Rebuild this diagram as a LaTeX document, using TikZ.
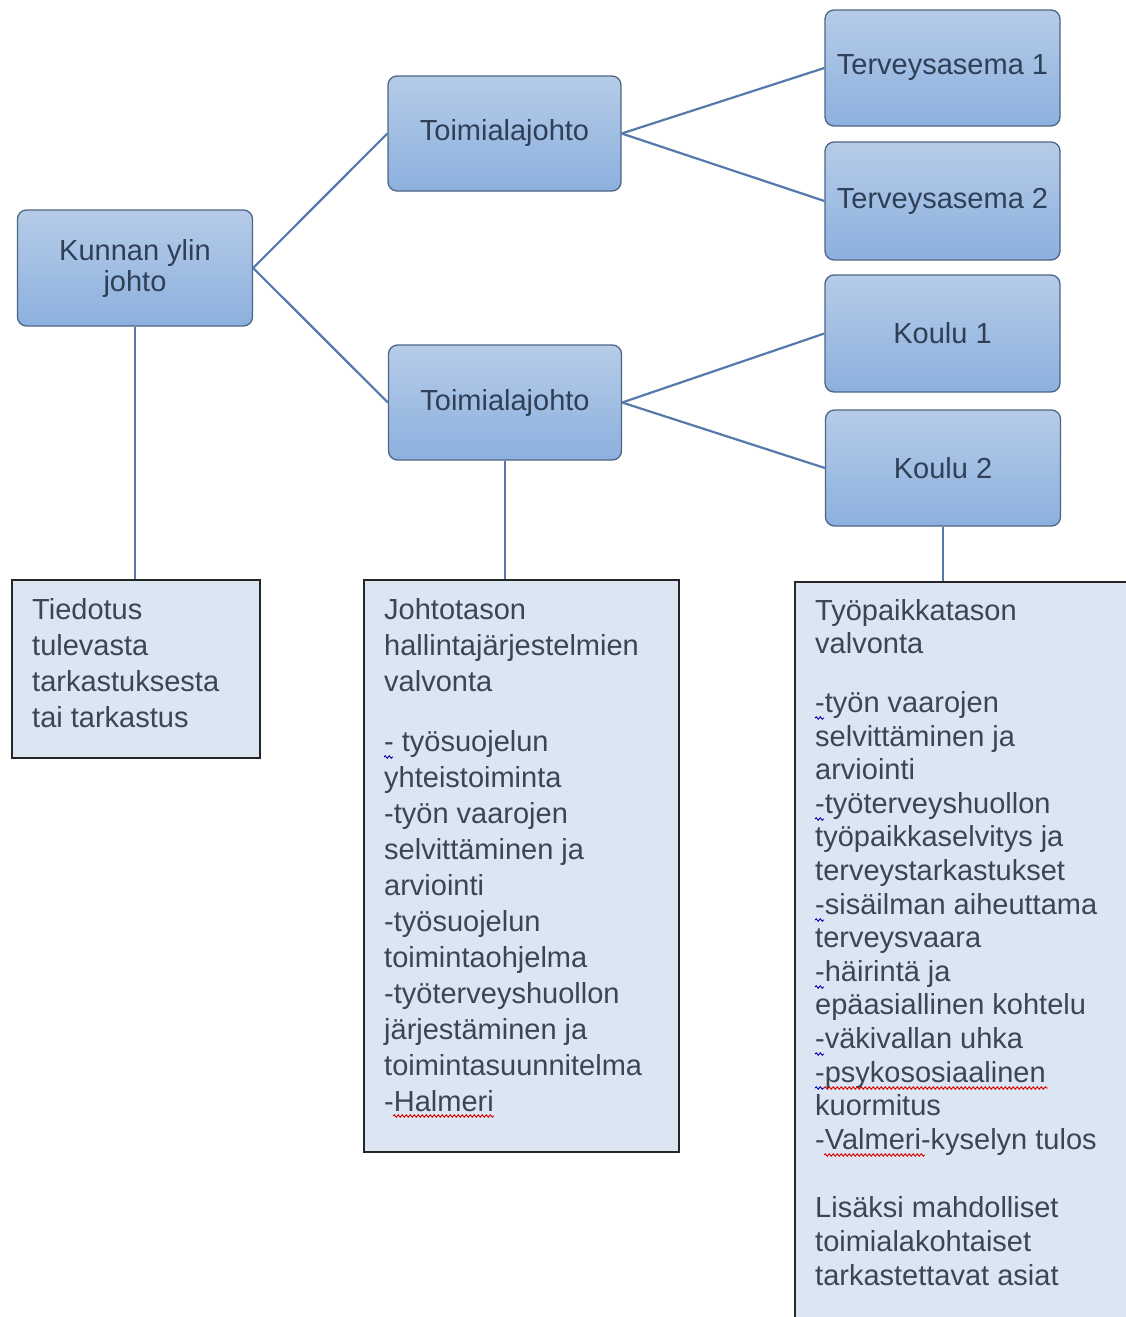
\documentclass[tikz,border=0pt]{standalone}
\usepackage{fontspec}
\usetikzlibrary{decorations.pathmorphing}
\setmainfont{Liberation Sans}
\definecolor{boxtop}{HTML}{B6CCE8}
\definecolor{boxbot}{HTML}{8CB0DE}
\definecolor{boxline}{HTML}{4D6585}
\definecolor{conn}{HTML}{5579AB}
\definecolor{nodetext}{HTML}{2F3F57}
\definecolor{notefill}{HTML}{DCE6F2}
\definecolor{notetext}{HTML}{3C4653}
\begin{document}
\begin{tikzpicture}[x=1pt,y=-1pt,
  orgbox/.style={draw=boxline, line width=1.3pt, rounded corners=9pt,
    top color=boxtop, bottom color=boxbot, minimum width=235pt, minimum height=116pt,
    inner sep=0pt, text=nodetext, align=center, font=\fontsize{29}{31}\selectfont},
  notebox/.style={draw=black!85, line width=1.6pt, fill=notefill, inner sep=0pt},
  notetxt/.style={anchor=north west, inner sep=0pt, align=left, text=notetext},
  conline/.style={draw=conn, line width=2.2pt},
  redwave/.style={draw=red!85!black, line width=0.9pt, decorate,
    decoration={snake, amplitude=1.2pt, segment length=4pt}},
  bluewave/.style={draw=blue!70!black, line width=0.9pt, decorate,
    decoration={snake, amplitude=1.2pt, segment length=4pt}}]
\useasboundingbox (0,0) rectangle (1126,1317);
\clip (0,0) rectangle (1126,1317);

% organisation boxes
\node[orgbox] (kunta) at (135,268) {Kunnan ylin\\johto};
\node[orgbox, minimum width=233pt, minimum height=115pt] (toim1) at (504.5,133.5) {Toimialajohto};
\node[orgbox, minimum width=233pt, minimum height=115pt] (toim2) at (505,402.5) {Toimialajohto};
\node[orgbox] (ter1) at (942.5,68) {Terveysasema 1};
\node[orgbox, minimum height=118pt] (ter2) at (942.5,201) {Terveysasema 2};
\node[orgbox, minimum height=117pt] (kou1) at (942.5,333.5) {Koulu 1};
\node[orgbox] (kou2) at (943,468) {Koulu 2};

% note boxes
\node[notebox, minimum width=248pt, minimum height=178pt] (note1) at (136,669) {};
\node[notebox, minimum width=315pt, minimum height=572pt] (note2) at (521.5,866) {};
\node[notebox, minimum width=345pt, minimum height=770pt] (note3) at (967.5,967) {};

% connectors
\draw[conline] (kunta.east) -- (toim1.west);
\draw[conline] (kunta.east) -- (toim2.west);
\draw[conline] (toim1.east) -- (ter1.west);
\draw[conline] (toim1.east) -- (ter2.west);
\draw[conline] (toim2.east) -- (kou1.west);
\draw[conline] (toim2.east) -- (kou2.west);
\draw[conline] (kunta.south) -- (kunta.south |- note1.north);
\draw[conline] (toim2.south) -- (toim2.south |- note2.north);
\draw[conline] (kou2.south) -- (kou2.south |- note3.north);

% note texts
\node[notetxt, font=\fontsize{29}{36}\selectfont] (t1) at (32,598)
  {Tiedotus\\tulevasta\\tarkastuksesta\\tai tarkastus};
\node[notetxt, font=\fontsize{29}{36}\selectfont] (t2) at (384,598)
  {Johtotason\\hallintajärjestelmien\\valvonta\\[24pt]
   - työsuojelun\\yhteistoiminta\\-työn vaarojen\\selvittäminen ja\\arviointi\\
   -työsuojelun\\toimintaohjelma\\-työterveyshuollon\\järjestäminen ja\\
   toimintasuunnitelma\\-Halmeri};
\node[notetxt, font=\fontsize{29}{33.6}\selectfont] (t3) at (815,599)
  {Työpaikkatason\\valvonta\\[25pt]
   -työn vaarojen\\selvittäminen ja\\arviointi\\-työterveyshuollon\\
   työpaikkaselvitys ja\\terveystarkastukset\\-sisäilman aiheuttama\\
   terveysvaara\\-häirintä ja\\epäasiallinen kohtelu\\-väkivallan uhka\\
   -psykososiaalinen\\kuormitus\\-Valmeri-kyselyn tulos\\[35pt]
   Lisäksi mahdolliset\\toimialakohtaiset\\tarkastettavat asiat};

% spell-check marks
\draw[bluewave] (384,757) -- (393,757);
\foreach \yy in {718,819,920,987,1054,1088}
  \draw[bluewave] (815,\yy) -- (824,\yy);
\draw[redwave] (393,1116) -- (494,1116);
\draw[redwave] (824,1088) -- (1048,1088);
\draw[redwave] (824,1155) -- (925,1155);
\end{tikzpicture}
\end{document}
